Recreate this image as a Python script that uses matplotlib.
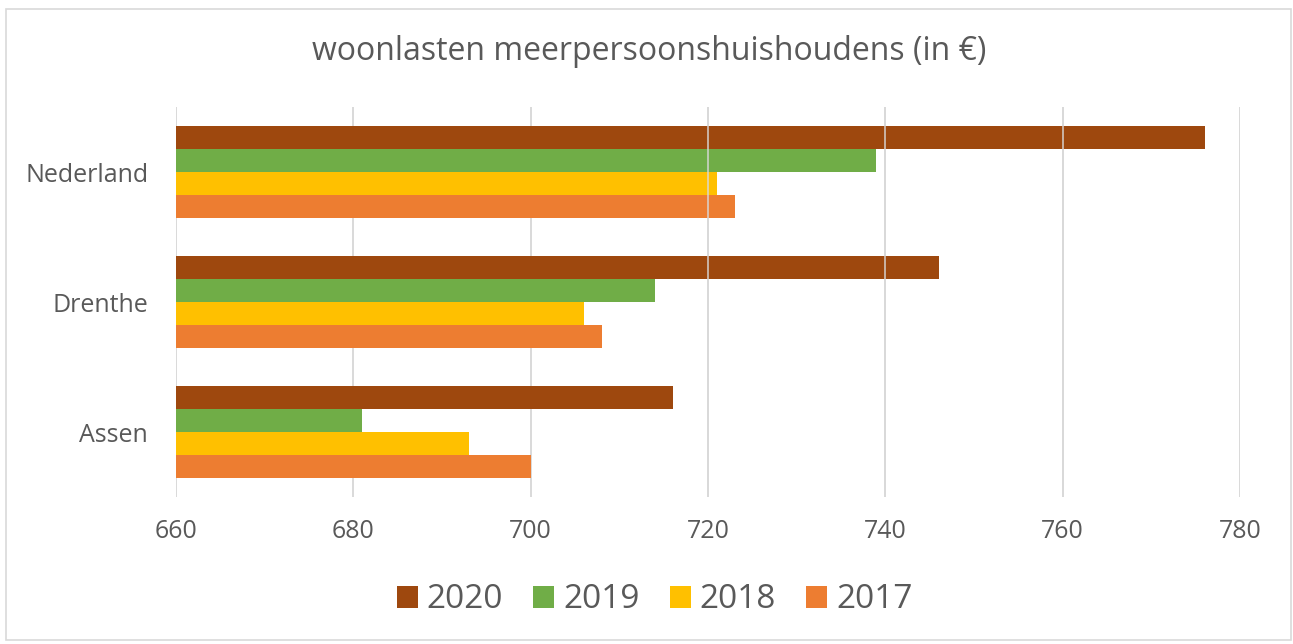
import matplotlib
matplotlib.use("Agg")
import matplotlib.pyplot as plt
from matplotlib.patches import Rectangle
import numpy as np

categories = ["Assen", "Drenthe", "Nederland"]
years = ["2020", "2019", "2018", "2017"]
values = {
    "2020": [716, 746, 776],
    "2019": [681, 714, 739],
    "2018": [693, 706, 721],
    "2017": [700, 708, 723],
}
colors = {"2020": "#9E480E", "2019": "#70AD47", "2018": "#FFC000", "2017": "#ED7D31"}
xticks = [660, 680, 700, 720, 740, 760, 780]
overlay_ticks = [720, 740, 760]

plt.rcParams['font.family'] = ['Open Sans', 'DejaVu Sans']
txt = "#595959"

fig = plt.figure(figsize=(12.93, 6.44), dpi=100)
ax = fig.add_axes([176/1293, (644-497)/644, (1240-176)/1293, (497-107)/644])

y = np.arange(len(categories))
h = 0.177
offsets = [1.5, 0.5, -0.5, -1.5]
for yr, off in zip(years, offsets):
    ax.barh(y + off*h, np.array(values[yr]) - 660, left=660, height=h,
            color=colors[yr], label=yr, zorder=2)

ax.set_xlim(660, 780)
ax.set_ylim(-0.5, 2.5)
ax.set_xticks(xticks)
ax.set_xticklabels([str(t) for t in xticks], fontsize=18, color=txt)
ax.set_yticks(y)
ax.set_yticklabels(categories, fontsize=18, color=txt)
ax.tick_params(axis='x', length=0, pad=16)
ax.tick_params(axis='y', length=0, pad=20)
for s in ax.spines.values():
    s.set_visible(False)
for t in xticks:
    ax.axvline(t, color="#D9D9D9", lw=1.4, zorder=1)
for t in overlay_ticks:
    ax.axvline(t, color="#D9D9D9", lw=1.3, zorder=3, alpha=0.8)

fig.text(649/1293, 1-51/644, "woonlasten meerpersoonshuishoudens (in €)", fontsize=23,
         color=txt, ha="center", va="center")

leg = fig.legend(loc="center", bbox_to_anchor=(654.5/1293, 1-600/644), ncol=4, frameon=False,
                 fontsize=24, handlelength=0.63, handleheight=0.63, handletextpad=0.27,
                 columnspacing=0.9, labelcolor=txt)

fig.patches.append(Rectangle((6/1293, 4/644), 1285/1293, 631/644, transform=fig.transFigure,
                             fill=False, edgecolor="#D9D9D9", lw=1.2))
fig.savefig("out.png", dpi=100, facecolor="white")
